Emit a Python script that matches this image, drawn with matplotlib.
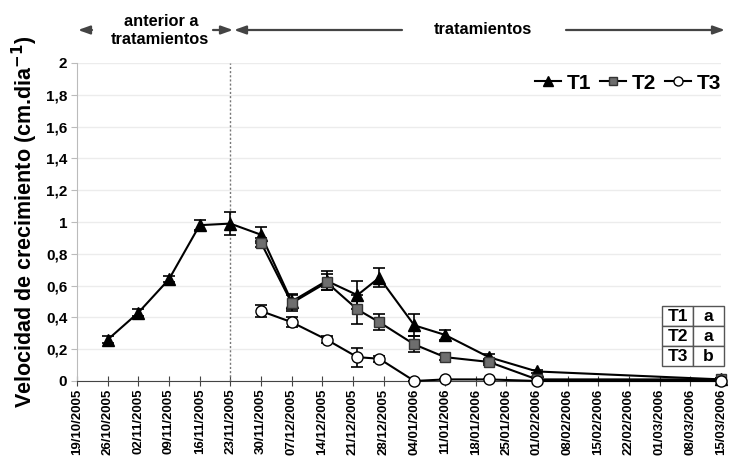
import numpy as np
import pandas as pd
import matplotlib
matplotlib.use("Agg")
import matplotlib.pyplot as plt
import matplotlib.dates as mdates
from matplotlib.lines import Line2D
from matplotlib.patches import FancyArrowPatch, Rectangle

plt.rcParams["font.family"] = ["Liberation Sans", "DejaVu Sans"]

# Data
t1_dates = ["26/10/2005", "02/11/2005", "09/11/2005", "16/11/2005", "23/11/2005", "30/11/2005",
            "07/12/2005", "15/12/2005", "22/12/2005", "27/12/2005", "04/01/2006", "11/01/2006",
            "21/01/2006", "01/02/2006", "15/03/2006"]
t1_vals = [0.26, 0.43, 0.64, 0.98, 0.99, 0.92, 0.50, 0.63, 0.54, 0.65, 0.35, 0.29, 0.15, 0.06, 0.01]
t1_err = [0.02, 0.02, 0.02, 0.03, 0.07, 0.05, 0.05, 0.06, 0.09, 0.06, 0.07, 0.03, 0.02, 0.01, 0.01]

t23_dates = ["30/11/2005", "07/12/2005", "15/12/2005", "22/12/2005", "27/12/2005", "04/01/2006",
             "11/01/2006", "21/01/2006", "01/02/2006", "15/03/2006"]
t2_vals = [0.87, 0.49, 0.62, 0.45, 0.37, 0.23, 0.15, 0.12, 0.01, 0.01]
t2_err = [0.03, 0.05, 0.05, 0.09, 0.05, 0.05, 0.02, 0.02, 0.01, 0.01]
t3_vals = [0.44, 0.37, 0.26, 0.15, 0.14, 0.0, 0.01, 0.01, 0.0, 0.0]
t3_err = [0.04, 0.03, 0.02, 0.06, 0.02, 0.0, 0.0, 0.0, 0.0, 0.0]

table_rows = [["T1", "a"], ["T2", "a"], ["T3", "b"]]
start_date = "19/10/2005"
end_date = "15/03/2006"
treat_start = "23/11/2005"


def to_dt(lst):
    return pd.to_datetime(lst, format="%d/%m/%Y")


fig = plt.figure(figsize=(7.3, 4.68), dpi=100)
ax = fig.add_axes([77 / 730, 87 / 468, 644 / 730, 318 / 468])

x1 = to_dt(t1_dates)
x23 = to_dt(t23_dates)

styles = [
    ("T1", x1, t1_vals, t1_err, dict(marker="^", ms=8, mfc="black", mec="black"), 3),
    ("T2", x23, t2_vals, t2_err, dict(marker="s", ms=7, mfc="#6e6e6e", mec="#333333"), 4),
    ("T3", x23, t3_vals, t3_err, dict(marker="o", ms=8, mfc="white", mec="black"), 5),
]
handles = []
for name, xs, ys, es, mk, z in styles:
    ax.errorbar(xs, ys, yerr=es, color="black", lw=1.5, capsize=4, elinewidth=1.2,
                capthick=1.2, zorder=z, clip_on=False, **mk)
    handles.append(Line2D([], [], color="black", lw=1.5, label=name,
                          **{**mk, "ms": mk["ms"] - 1.5}))

ax.axvline(to_dt([treat_start])[0], color="#777777", lw=1, ls=(0, (1.5, 1.5)), zorder=2)

ax.set_xlim(to_dt([start_date])[0], to_dt([end_date])[0])
ax.set_ylim(0, 2)
ticks = pd.date_range(to_dt([start_date])[0], to_dt([end_date])[0], freq="7D")
ax.set_xticks(ticks)
ax.xaxis.set_major_formatter(mdates.DateFormatter("%d/%m/%Y"))
plt.setp(ax.get_xticklabels(), rotation=90, fontsize=9.5, fontweight="bold")
yt = np.round(np.arange(0, 2.01, 0.2), 1)
ax.set_yticks(yt)
ax.set_yticklabels([("%g" % v).replace(".", ",") for v in yt], fontsize=11, fontweight="bold")
ax.grid(axis="y", color="#ececec", lw=1)
ax.set_axisbelow(True)
for s in ["top", "right"]:
    ax.spines[s].set_visible(False)
ax.spines["left"].set_color("#bbbbbb")
ax.spines["bottom"].set_color("#444444")
ax.tick_params(axis="x", direction="inout", length=7, color="#444444", pad=2)
ax.tick_params(axis="y", length=4, color="#bbbbbb", pad=3)

ax.set_ylabel("Velocidad de crecimiento (cm.dia$^{\\mathbf{-1}}$)", fontsize=15.5,
              fontweight="bold", labelpad=4)

ax.legend(handles=handles, ncol=3, loc="center right", bbox_to_anchor=(1.0, 0.937),
          frameon=False, prop={"weight": "bold", "size": 15}, handlelength=1.25,
          handletextpad=0.25, columnspacing=0.45, borderpad=0, borderaxespad=0)


# pixel helpers (origin top-left, like the reference image)
def fy(py):
    return 1 - py / 468


def fx(px):
    return px / 730


# significance table
cw, rh = 31, 20
tx0, ty0 = 662, 306
for i, row in enumerate(table_rows):
    for j, txt in enumerate(row):
        x0 = tx0 + j * cw
        y0 = ty0 + i * rh
        fig.add_artist(Rectangle((fx(x0), fy(y0 + rh)), cw / 730, rh / 468,
                                 transform=fig.transFigure, facecolor="white",
                                 edgecolor="#555555", lw=1, zorder=6))
        fig.text(fx(x0 + cw / 2), fy(y0 + rh / 2 + 0.5), txt, ha="center", va="center",
                 fontsize=12.5, fontweight="bold", zorder=7)

# period annotations above the plot
fig.text(fx(161), fy(21), "anterior a", ha="center", va="center", fontsize=11.8,
         fontweight="bold")
fig.text(fx(160), fy(40), "tratamientos", ha="center", va="center", fontsize=11.8,
         fontweight="bold")
fig.text(fx(483), fy(30), "tratamientos", ha="center", va="center", fontsize=11.8,
         fontweight="bold")

for x0, x1_ in [(92, 78), (213, 233), (402, 234), (566, 725)]:
    fig.add_artist(FancyArrowPatch(
        (fx(x0), fy(30)), (fx(x1_), fy(30)), transform=fig.transFigure,
        arrowstyle="-|>,head_length=0.7,head_width=0.25", mutation_scale=10,
        color="#444444", lw=1.6, shrinkA=0, shrinkB=0))

fig.savefig("out.png", dpi=100)
